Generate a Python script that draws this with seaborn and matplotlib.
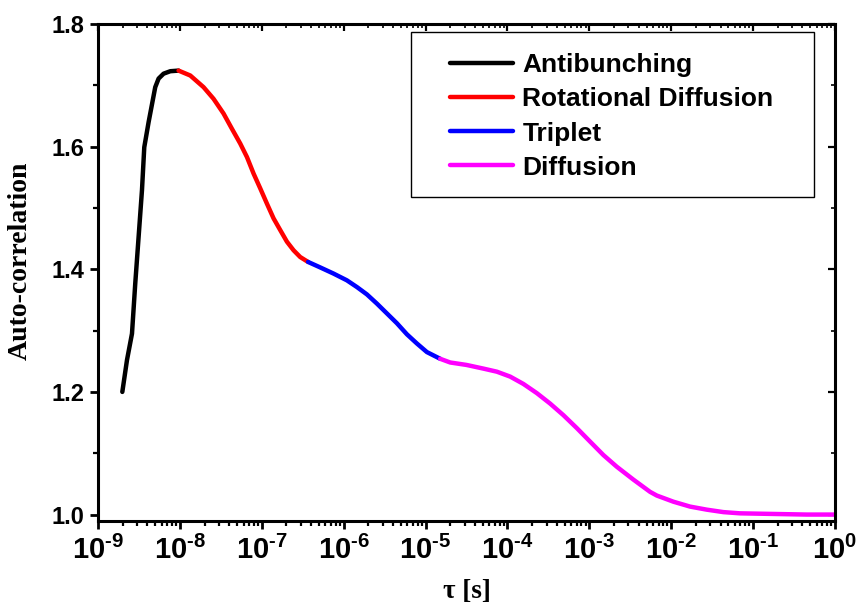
import numpy as np
import pandas as pd
import seaborn as sns
import matplotlib
matplotlib.use("Agg")
import matplotlib.pyplot as plt
from matplotlib.patches import Rectangle
from matplotlib.ticker import FixedLocator, MultipleLocator, FuncFormatter, NullFormatter

# Correlation curve in four time regimes; delay times given as log10(tau / s)
antibunching_log_tau = [-8.703, -8.646, -8.585, -8.545, -8.504, -8.463, -8.435, -8.382,
                        -8.301, -8.260, -8.199, -8.117, -8.016]
antibunching_g = [1.200, 1.252, 1.295, 1.377, 1.453, 1.529, 1.599, 1.640,
                  1.697, 1.711, 1.719, 1.723, 1.724]

rotational_log_tau = [-8.016, -7.873, -7.711, -7.589, -7.467, -7.364, -7.263, -7.181,
                      -7.100, -7.019, -6.937, -6.856, -6.775, -6.693, -6.612, -6.531, -6.435]
rotational_g = [1.724, 1.716, 1.697, 1.678, 1.654, 1.629, 1.605, 1.583,
                1.556, 1.532, 1.507, 1.483, 1.464, 1.445, 1.431, 1.420, 1.412]

triplet_log_tau = [-6.435, -6.286, -6.124, -5.961, -5.838, -5.716, -5.594, -5.472,
                   -5.350, -5.228, -5.106, -4.984, -4.821]
triplet_g = [1.412, 1.403, 1.393, 1.382, 1.371, 1.359, 1.344, 1.328,
             1.312, 1.294, 1.279, 1.265, 1.254]

diffusion_log_tau = [-4.821, -4.699, -4.500, -4.293, -4.129, -3.967, -3.805, -3.641,
                     -3.479, -3.316, -3.153, -2.991, -2.828, -2.665, -2.462, -2.258,
                     -2.176, -1.974, -1.770, -1.566, -1.363, -1.160, -0.753, -0.345, 0.0]
diffusion_g = [1.254, 1.248, 1.244, 1.238, 1.233, 1.225, 1.213, 1.198,
               1.181, 1.162, 1.141, 1.119, 1.097, 1.078, 1.057, 1.037,
               1.031, 1.021, 1.013, 1.008, 1.004, 1.002, 1.001, 1.000, 1.000]

segment_names = ["Antibunching", "Rotational Diffusion", "Triplet", "Diffusion"]
segment_colors = ["#000000", "#ff0000", "#0000ff", "#ff00ff"]

# decade ticks of the time axis
decade_exponents = [-9, -8, -7, -6, -5, -4, -3, -2, -1, 0]

frames = []
for name, lt, g in zip(segment_names,
                       [antibunching_log_tau, rotational_log_tau, triplet_log_tau, diffusion_log_tau],
                       [antibunching_g, rotational_g, triplet_g, diffusion_g]):
    frames.append(pd.DataFrame({"tau": np.power(10.0, lt), "g": g, "regime": name}))
df = pd.concat(frames, ignore_index=True)

sns.set_theme(style="white")
plt.rcParams["font.family"] = ["Liberation Sans", "DejaVu Sans"]
plt.rcParams["mathtext.fontset"] = "custom"
plt.rcParams["mathtext.bf"] = "Liberation Sans:bold"
plt.rcParams["mathtext.rm"] = "Liberation Sans:bold"
plt.rcParams["mathtext.it"] = "Liberation Sans:bold"
for key in ["text.color", "axes.labelcolor", "xtick.color", "ytick.color", "axes.edgecolor"]:
    plt.rcParams[key] = "black"

fig = plt.figure(figsize=(8.56, 6.10), dpi=100)
# axes box in pixels: x 98..835, y 24..521 (from the top)
W, H = 856, 610
ax = fig.add_axes([98 / W, 1 - 521 / H, (835 - 98) / W, (521 - 24) / H])

sns.lineplot(data=df, x="tau", y="g", hue="regime", hue_order=segment_names,
             palette=dict(zip(segment_names, segment_colors)), sort=False,
             estimator=None, linewidth=3.2, ax=ax)
for ln in ax.get_lines():
    ln.set_solid_joinstyle("round")
    ln.set_solid_capstyle("round")

ax.set_xscale("log")
ax.set_xlim(1e-9, 1.0)
ax.set_ylim(0.9895, 1.8)

major_x = [10.0 ** e for e in decade_exponents]
minor_x = [m * 10.0 ** e for e in decade_exponents[:-1] for m in range(2, 10)]


def decade_label(v, pos):
    e = int(round(np.log10(v)))
    if e < 0:
        return r"$\mathbf{10^{\text{-}%d}}$" % (-e)
    return r"$\mathbf{10^{%d}}$" % e


ax.xaxis.set_major_locator(FixedLocator(major_x))
ax.xaxis.set_minor_locator(FixedLocator(minor_x))
ax.xaxis.set_minor_formatter(NullFormatter())
ax.xaxis.set_major_formatter(FuncFormatter(decade_label))
ax.yaxis.set_major_locator(MultipleLocator(0.2))
ax.yaxis.set_minor_locator(MultipleLocator(0.1))
ax.yaxis.set_major_formatter(FuncFormatter(lambda v, p: f"{v:.1f}"))

for side in ["left", "bottom", "top", "right"]:
    ax.spines[side].set_visible(True)
    ax.spines[side].set_color("black")
    ax.spines[side].set_linewidth(2.2)

ax.tick_params(axis="both", which="both", direction="out", color="black",
               bottom=True, left=True, top=False, right=False)
ax.tick_params(axis="both", which="major", length=6, width=2.0)
ax.tick_params(axis="both", which="minor", length=3.5, width=1.6)
ax.tick_params(axis="x", which="major", labelsize=21, pad=5, labelcolor="black")
ax.tick_params(axis="y", which="major", labelsize=17, pad=4, labelcolor="black")
for lab in ax.get_yticklabels():
    lab.set_fontweight("bold")

# mirrored inward ticks on the top and right spines
top = ax.secondary_xaxis("top")
top.xaxis.set_major_locator(FixedLocator(major_x))
top.xaxis.set_minor_locator(FixedLocator(minor_x))
top.xaxis.set_major_formatter(NullFormatter())
top.xaxis.set_minor_formatter(NullFormatter())
top.tick_params(which="both", direction="in", color="black", labeltop=False)
top.tick_params(which="major", length=5, width=1.6)
top.tick_params(which="minor", length=3, width=1.2)
top.spines["top"].set_visible(False)

right = ax.secondary_yaxis("right")
right.yaxis.set_major_locator(MultipleLocator(0.2))
right.yaxis.set_minor_locator(MultipleLocator(0.1))
right.yaxis.set_major_formatter(NullFormatter())
right.tick_params(which="both", direction="in", color="black", labelright=False)
right.tick_params(which="major", length=5, width=1.6)
right.tick_params(which="minor", length=3, width=1.2)
right.spines["right"].set_visible(False)

serif = ["Liberation Serif", "DejaVu Serif"]
ax.set_xlabel("τ [s]", fontsize=19.5, fontweight="bold", family=serif,
              color="black", labelpad=10)
ax.set_ylabel("Auto-correlation", fontsize=20, fontweight="bold", family=serif,
              color="black")
ax.yaxis.set_label_coords(-0.088, 0.523)

# legend box: x 411..814, y 32..197 (pixels from top-left)
bx0, bx1 = (411 - 98) / 737, (814 - 98) / 737
by0, by1 = (521 - 197) / 497, (521 - 32) / 497
ax.add_patch(Rectangle((bx0, by0), bx1 - bx0, by1 - by0, transform=ax.transAxes,
                       facecolor="white", edgecolor="black", linewidth=1.0, zorder=4))
leg = ax.legend(loc="center",
                bbox_to_anchor=((bx0 + bx1) / 2 - 0.001, (by0 + by1) / 2 - 0.004),
                frameon=False, handlelength=2.4, handletextpad=0.34,
                borderpad=0.0, labelspacing=0.38, borderaxespad=0.0,
                prop={"family": "Liberation Sans", "weight": "bold", "size": 19})
leg.set_zorder(5)
for txt in leg.get_texts():
    txt.set_color("black")
for line in leg.get_lines():
    line.set_linewidth(3.2)

fig.savefig("out.png", dpi=100)
